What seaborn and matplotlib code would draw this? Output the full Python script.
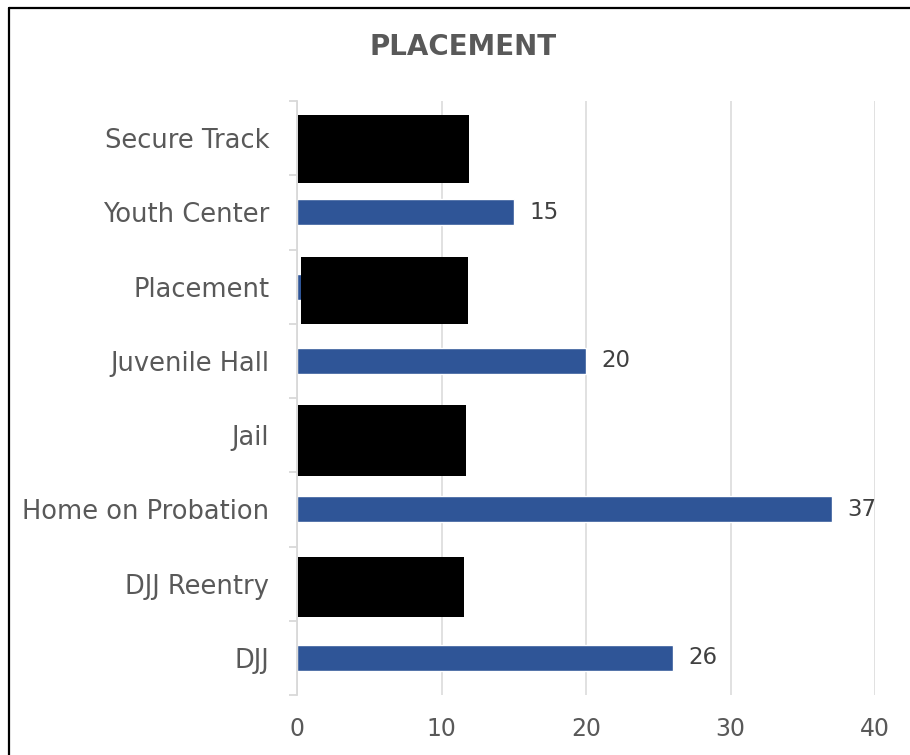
import numpy as np
import pandas as pd
import matplotlib.pyplot as plt
from matplotlib.lines import Line2D
import seaborn as sns

sns.set_style("white")
plt.rcParams["font.family"] = ["DejaVu Sans"]


# ---------------------------------------------------
# Data
# ---------------------------------------------------

categories = ["Secure Track", "Youth Center", "Placement", "Juvenile Hall",
              "Jail", "Home on Probation", "DJJ Reentry", "DJJ"]

# values that can be read; the others are covered by black boxes
shown_categories = ["Youth Center", "Placement", "Juvenile Hall",
                    "Home on Probation", "DJJ"]
shown_counts = [15, 1, 20, 37, 26]          # Placement: only a sliver shows
labelled = [True, False, True, True, True]

# black redaction boxes (in data units)
redact_categories = ["Secure Track", "Placement", "Jail", "DJJ Reentry"]
redact_left = [0.05, 0.28, 0.05, 0.05]
redact_right = [11.9, 11.83, 11.67, 11.54]
redact_top = [-0.31, 1.60, 3.59, 5.64]
redact_bottom = [0.61, 2.50, 4.55, 6.45]

x_ticks = [0, 10, 20, 30, 40]

BLUE = "#2F5597"
GREY_TEXT = "#595959"
GRID = "#D9D9D9"


# ---------------------------------------------------
# Figure
# ---------------------------------------------------

fig = plt.figure(figsize=(9.1, 7.55), dpi=100)
ax = fig.add_axes([297 / 910, 1 - 695 / 755, 578 / 910, 594 / 755])

df = pd.DataFrame({"category": shown_categories, "count": shown_counts})

sns.barplot(data=df,
            x="count",
            y="category",
            order=categories,
            color=BLUE,
            width=0.35,
            saturation=1,
            ax=ax,
            zorder=3)

# value labels
for cat, val, show in zip(shown_categories, shown_counts, labelled):
    if not show:
        continue
    ax.annotate(str(val),
                xy=(val, categories.index(cat)),
                xytext=(11, 0),
                textcoords="offset points",
                ha="left", va="center",
                fontsize=16.5, color="#404040")

# redaction boxes
for cat, l, r, t, b in zip(redact_categories, redact_left, redact_right,
                           redact_top, redact_bottom):
    ax.barh(y=(t + b) / 2, width=r - l, left=l, height=b - t,
            color="black", linewidth=0, zorder=5)

# axes styling
ax.set_xlim(0, 40)
ax.set_ylim(len(categories) - 0.5, -0.5)
ax.set_xticks(x_ticks)
ax.set_xlabel("")
ax.set_ylabel("")

ax.grid(axis="x", color=GRID, linewidth=1.1, zorder=0)
ax.grid(axis="y", visible=False)

for side in ["top", "right", "bottom"]:
    ax.spines[side].set_visible(False)
ax.spines["left"].set_color(GRID)
ax.spines["left"].set_linewidth(1.3)
ax.spines["left"].set_zorder(4)

ax.set_yticks(np.arange(-0.5, len(categories)), minor=True)
ax.tick_params(axis="y", which="minor", left=True, length=6, width=1.3,
               color=GRID, direction="out")
ax.tick_params(axis="y", which="major", left=True, length=0, pad=20,
               labelsize=18.5, labelcolor=GREY_TEXT)
ax.tick_params(axis="x", length=0, pad=16, labelsize=17,
               labelcolor=GREY_TEXT)

# title
fig.text(463 / 910, 1 - 47 / 755, "PLACEMENT",
         ha="center", va="center",
         fontsize=20, fontweight="bold", color=GREY_TEXT)

# chart border (only left and top edges are in the picture)
fig.add_artist(Line2D([8.5 / 910, 8.5 / 910], [0, 1 - 7.5 / 755],
                      color="black", linewidth=1.6))
fig.add_artist(Line2D([8.5 / 910, 1], [1 - 7.5 / 755, 1 - 7.5 / 755],
                      color="black", linewidth=1.6))

fig.savefig("out.png", dpi=100)
